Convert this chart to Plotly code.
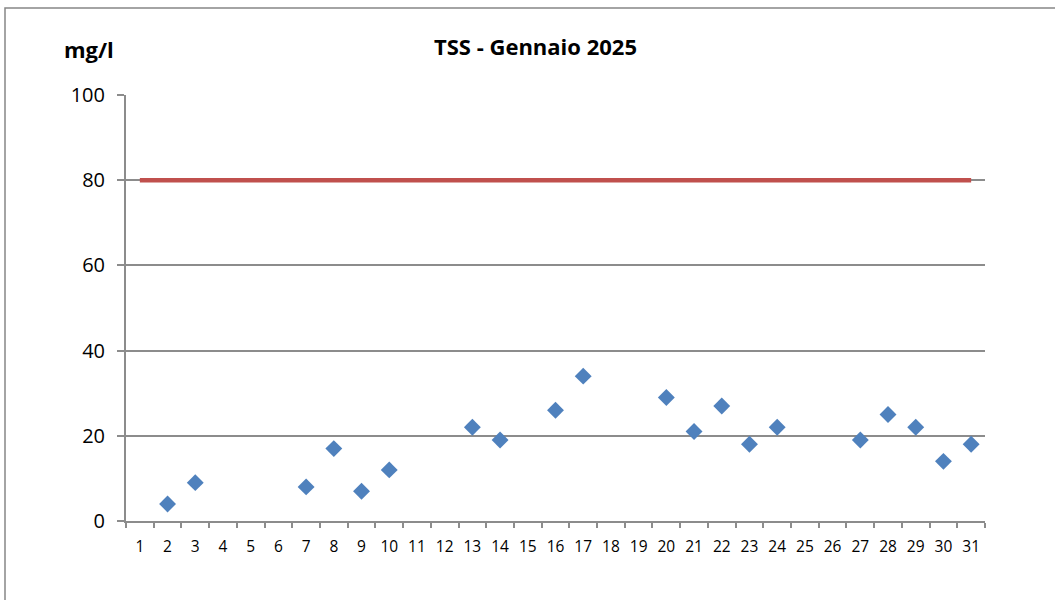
import plotly.graph_objects as go

days = [str(d) for d in range(1, 32)]
tss_days = ["2", "3", "7", "8", "9", "10", "13", "14", "16", "17", "20", "21", "22", "23", "24", "27", "28", "29", "30", "31"]
tss_values = [4, 9, 8, 17, 7, 12, 22, 19, 26, 34, 29, 21, 27, 18, 22, 19, 25, 22, 14, 18]
limit_values = [80] * 31
y_ticks = [0, 20, 40, 60, 80, 100]

W, H = 1055, 600
L, R, T, B = 126, 70, 95, 79
pw, ph = W - L - R, H - T - B

font_family = "'Open Sans', Lato, sans-serif"
grid_gray = "#8c8c8c"


def px_x(x):
    return (x - L) / pw


def px_y(y):
    return (H - B - y) / ph


fig = go.Figure()
fig.add_trace(go.Scatter(
    x=days, y=limit_values, mode="lines",
    line=dict(color="#C0504D", width=4.5),
    hoverinfo="skip", showlegend=False,
))
fig.add_trace(go.Scatter(
    x=tss_days, y=tss_values, mode="markers",
    marker=dict(symbol="diamond", size=13, color="#4F81BD", line=dict(width=0)),
    showlegend=False,
))

fig.update_layout(
    width=W, height=H,
    margin=dict(l=L, r=R, t=T, b=B, autoexpand=False),
    paper_bgcolor="white", plot_bgcolor="white",
    font=dict(family=font_family, color="black"),
    xaxis=dict(
        type="category", categoryorder="array", categoryarray=days,
        range=[-0.5, 30.5], tickson="boundaries",
        ticks="outside", ticklen=5, tickcolor=grid_gray, tickwidth=2,
        showline=True, linecolor=grid_gray, linewidth=2,
        showgrid=False, zeroline=False,
        tickangle=0,
        tickfont=dict(size=15.5, family=font_family),
        ticklabelstandoff=10,
    ),
    yaxis=dict(
        range=[0, 100], tickvals=y_ticks,
        ticks="outside", ticklen=7, tickcolor=grid_gray, tickwidth=2,
        showline=True, linecolor=grid_gray, linewidth=2,
        showgrid=True, gridcolor=grid_gray, gridwidth=2,
        zeroline=False,
        tickfont=dict(size=20, family=font_family),
        ticklabelstandoff=8,
    ),
    shapes=[dict(
        type="rect", xref="paper", yref="paper",
        x0=px_x(5), x1=px_x(W + 20),
        y0=px_y(H + 20), y1=px_y(8),
        line=dict(color="#868686", width=1.5), fillcolor="rgba(0,0,0,0)",
        layer="below",
    )],
    annotations=[
        dict(text="<b>TSS - Gennaio 2025</b>", xref="paper", yref="paper",
             x=px_x(535), y=px_y(46), showarrow=False,
             xanchor="center", yanchor="middle",
             font=dict(size=22, family=font_family)),
        dict(text="<b>mg/l</b>", xref="paper", yref="paper",
             x=px_x(89), y=px_y(49), showarrow=False,
             xanchor="center", yanchor="middle",
             font=dict(size=22, family=font_family)),
    ],
)

fig.write_html("out.html", config={"displayModeBar": False},
               post_script="document.body.style.margin='0';")
